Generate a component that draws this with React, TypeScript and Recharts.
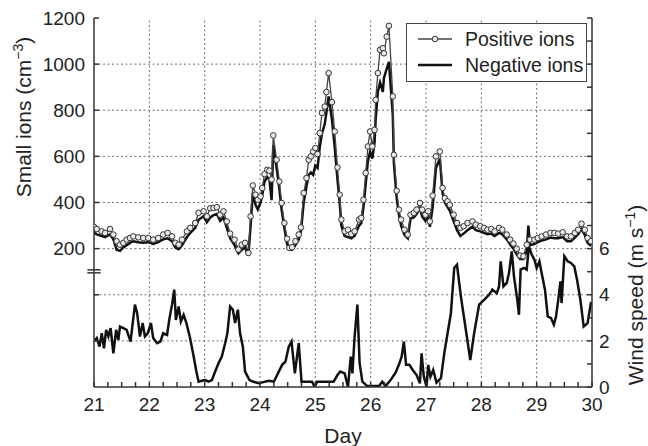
import React from 'react';
import { ComposedChart, Line, XAxis, YAxis, ReferenceLine, ReferenceArea } from 'recharts';

const FONT = '"Liberation Sans", Arial, Helvetica, sans-serif';

// ---------- data ----------
const positiveDays = [21.0, 21.05, 21.14, 21.2, 21.29, 21.35, 21.41, 21.47, 21.53, 21.59, 21.65, 21.71, 21.8, 21.89, 21.98, 22.07, 22.16, 22.25, 22.33, 22.41, 22.47, 22.53, 22.59, 22.68, 22.74, 22.83, 22.89, 22.98, 23.04, 23.1, 23.16, 23.22, 23.28, 23.34, 23.4, 23.46, 23.54, 23.61, 23.67, 23.73, 23.79, 23.83, 23.87, 23.92, 23.96, 24.01, 24.04, 24.08, 24.13, 24.17, 24.21, 24.24, 24.3, 24.35, 24.39, 24.44, 24.49, 24.53, 24.58, 24.64, 24.7, 24.74, 24.79, 24.84, 24.88, 24.92, 24.96, 25.0, 25.04, 25.08, 25.12, 25.17, 25.2, 25.24, 25.3, 25.35, 25.4, 25.44, 25.47, 25.53, 25.59, 25.65, 25.71, 25.79, 25.83, 25.87, 25.91, 25.95, 25.99, 26.03, 26.07, 26.09, 26.13, 26.17, 26.22, 26.24, 26.29, 26.33, 26.4, 26.42, 26.47, 26.51, 26.55, 26.61, 26.67, 26.72, 26.78, 26.83, 26.89, 26.93, 26.99, 27.04, 27.07, 27.12, 27.18, 27.25, 27.3, 27.34, 27.39, 27.43, 27.5, 27.56, 27.62, 27.68, 27.75, 27.84, 27.9, 27.98, 28.05, 28.11, 28.18, 28.24, 28.32, 28.38, 28.46, 28.52, 28.58, 28.64, 28.7, 28.76, 28.82, 28.88, 28.96, 29.02, 29.09, 29.17, 29.25, 29.32, 29.39, 29.47, 29.55, 29.62, 29.69, 29.75, 29.81, 29.87, 29.92, 29.98];
const positiveIons = [294, 285, 275, 268, 285, 261, 232, 217, 225, 239, 246, 253, 249, 246, 246, 239, 246, 261, 268, 253, 225, 217, 239, 275, 290, 311, 355, 362, 340, 375, 376, 380, 347, 362, 318, 265, 239, 196, 217, 225, 181, 340, 474, 434, 412, 426, 463, 523, 542, 538, 500, 691, 585, 491, 398, 311, 243, 203, 206, 232, 261, 292, 441, 506, 585, 600, 621, 636, 610, 701, 788, 816, 879, 961, 835, 708, 552, 434, 326, 275, 282, 264, 275, 326, 333, 412, 528, 643, 708, 643, 715, 845, 961, 1062, 1069, 1047, 1119, 1166, 860, 607, 451, 369, 326, 282, 261, 347, 355, 369, 398, 369, 347, 362, 318, 430, 600, 621, 463, 419, 405, 390, 347, 311, 290, 297, 311, 318, 304, 297, 290, 282, 285, 275, 290, 282, 261, 239, 222, 199, 170, 167, 217, 239, 239, 246, 253, 261, 268, 268, 265, 271, 253, 253, 268, 282, 308, 282, 246, 232];

const negativeDays = [21.0, 21.05, 21.14, 21.2, 21.29, 21.35, 21.41, 21.47, 21.53, 21.59, 21.65, 21.71, 21.8, 21.89, 21.98, 22.07, 22.16, 22.25, 22.33, 22.41, 22.47, 22.53, 22.59, 22.68, 22.74, 22.83, 22.89, 22.98, 23.04, 23.1, 23.16, 23.22, 23.28, 23.34, 23.4, 23.46, 23.54, 23.61, 23.67, 23.73, 23.79, 23.83, 23.87, 23.92, 23.96, 24.01, 24.04, 24.08, 24.13, 24.17, 24.21, 24.24, 24.3, 24.35, 24.39, 24.44, 24.49, 24.53, 24.58, 24.64, 24.7, 24.74, 24.79, 24.84, 24.88, 24.92, 24.96, 25.0, 25.04, 25.08, 25.12, 25.17, 25.2, 25.24, 25.3, 25.35, 25.4, 25.44, 25.47, 25.53, 25.59, 25.65, 25.71, 25.79, 25.83, 25.87, 25.91, 25.95, 25.99, 26.03, 26.07, 26.09, 26.13, 26.17, 26.22, 26.24, 26.29, 26.33, 26.4, 26.42, 26.47, 26.51, 26.55, 26.61, 26.67, 26.72, 26.78, 26.83, 26.89, 26.93, 26.99, 27.04, 27.07, 27.12, 27.18, 27.25, 27.3, 27.34, 27.39, 27.43, 27.5, 27.56, 27.62, 27.68, 27.75, 27.84, 27.9, 27.98, 28.05, 28.11, 28.18, 28.24, 28.32, 28.38, 28.46, 28.52, 28.58, 28.64, 28.7, 28.76, 28.82, 28.85, 28.88, 28.96, 29.02, 29.09, 29.17, 29.25, 29.32, 29.39, 29.47, 29.55, 29.62, 29.69, 29.75, 29.81, 29.87, 29.92, 29.98];
const negativeIons = [270, 262, 255, 250, 262, 240, 195, 190, 205, 215, 225, 232, 228, 226, 228, 220, 228, 240, 245, 232, 205, 198, 215, 250, 268, 290, 325, 340, 315, 335, 345, 350, 320, 335, 290, 245, 215, 180, 195, 205, 170, 300, 440, 390, 370, 400, 430, 490, 510, 500, 410, 650, 550, 460, 370, 290, 220, 195, 195, 215, 240, 275, 400, 470, 520, 530, 520, 560, 550, 640, 700, 740, 790, 860, 760, 640, 500, 400, 300, 255, 250, 245, 255, 300, 310, 380, 480, 580, 620, 590, 660, 760, 880, 920, 880, 940, 980, 1010, 780, 570, 420, 350, 300, 260, 245, 330, 335, 350, 375, 340, 320, 340, 295, 380, 550, 590, 440, 400, 380, 365, 320, 280, 255, 265, 280, 295, 280, 275, 268, 262, 265, 255, 268, 262, 240, 218, 200, 175, 155, 155, 190, 300, 215, 220, 228, 235, 240, 248, 245, 245, 250, 232, 232, 248, 262, 285, 260, 225, 212];

const windDays = [21.0, 21.05, 21.1, 21.14, 21.18, 21.22, 21.26, 21.3, 21.35, 21.4, 21.44, 21.47, 21.53, 21.59, 21.66, 21.74, 21.78, 21.83, 21.88, 21.92, 21.97, 22.03, 22.07, 22.14, 22.2, 22.25, 22.32, 22.36, 22.41, 22.45, 22.48, 22.53, 22.57, 22.62, 22.67, 22.73, 22.79, 22.85, 22.89, 22.95, 23.01, 23.07, 23.13, 23.19, 23.25, 23.31, 23.37, 23.41, 23.46, 23.51, 23.55, 23.6, 23.64, 23.69, 23.73, 23.81, 23.88, 23.98, 24.04, 24.16, 24.25, 24.31, 24.4, 24.46, 24.52, 24.57, 24.63, 24.7, 24.75, 24.82, 24.94, 24.99, 25.03, 25.21, 25.33, 25.4, 25.45, 25.53, 25.59, 25.64, 25.67, 25.71, 25.76, 25.8, 25.85, 25.94, 26.03, 26.15, 26.21, 26.27, 26.36, 26.45, 26.52, 26.56, 26.6, 26.64, 26.7, 26.76, 26.83, 26.89, 26.92, 26.96, 27.01, 27.04, 27.08, 27.13, 27.19, 27.27, 27.33, 27.39, 27.45, 27.51, 27.56, 27.63, 27.72, 27.8, 27.87, 27.96, 28.05, 28.14, 28.2, 28.28, 28.32, 28.35, 28.4, 28.46, 28.5, 28.55, 28.59, 28.65, 28.68, 28.71, 28.77, 28.82, 28.86, 28.91, 28.96, 29.0, 29.05, 29.09, 29.15, 29.2, 29.26, 29.31, 29.35, 29.39, 29.43, 29.45, 29.5, 29.56, 29.62, 29.68, 29.73, 29.79, 29.85, 29.92, 29.98, 30.0];
const windSpeed = [1.97, 2.12, 1.75, 2.33, 1.68, 2.48, 2.19, 2.55, 1.46, 2.48, 2.04, 2.62, 2.55, 2.48, 1.97, 3.57, 3.2, 2.19, 2.77, 2.19, 2.33, 2.77, 2.12, 1.9, 1.97, 2.33, 2.26, 2.91, 3.57, 4.22, 2.91, 3.49, 2.84, 3.13, 2.77, 2.19, 1.46, 0.67, 0.23, 0.27, 0.3, 0.23, 0.3, 0.67, 1.03, 1.32, 1.9, 2.33, 3.49, 3.35, 2.77, 3.35, 2.33, 1.75, 0.67, 0.3, 0.23, 0.16, 0.2, 0.27, 0.23, 0.52, 0.96, 1.1, 1.75, 1.97, 0.59, 1.9, 0.23, 0.23, 0.23, 0.0, 0.23, 0.23, 0.23, 0.52, 0.67, 0.59, 0.0, 1.32, 0.59, 2.19, 3.57, 1.03, 0.23, 0.04, 0.04, 0.04, 0.23, 0.04, 0.3, 0.62, 1.03, 1.32, 1.97, 0.96, 0.96, 0.74, 0.52, 0.16, 1.46, 0.45, 0.0, 0.96, 0.45, 0.74, 0.19, 0.38, 1.46, 2.33, 3.2, 5.16, 5.3, 3.93, 2.48, 1.17, 2.33, 3.57, 3.78, 4.0, 4.22, 4.07, 4.36, 5.45, 4.36, 4.51, 4.94, 5.88, 4.8, 3.78, 3.13, 5.09, 5.16, 5.09, 6.1, 5.74, 5.52, 5.16, 5.45, 4.94, 4.22, 3.06, 2.99, 2.7, 3.06, 3.78, 4.58, 3.64, 5.67, 5.45, 5.38, 5.23, 4.65, 3.78, 2.62, 2.77, 3.64, 3.64];

const dayLabels = [21, 22, 23, 24, 25, 26, 27, 28, 29, 30];
const ionLabels = [200, 400, 600, 800, 1000, 1200];
const windLabels = [0, 2, 4, 6];

const seriesNames = ['Positive ions', 'Negative ions'];

// ---------- derived tables ----------
const positiveData = positiveDays.map((d, i) => ({ day: d, v: positiveIons[i] }));
const negativeData = negativeDays.map((d, i) => ({ day: d, v: negativeIons[i] }));
const windData = windDays.map((d, i) => ({ day: d, v: windSpeed[i] }));

const dayTicks: number[] = [];
for (let d = 21; d <= 30.001; d += 0.25) dayTicks.push(Math.round(d * 100) / 100);
const windTicks: number[] = [];
for (let w = 0; w <= 16; w += 1) windTicks.push(w);
const ionTicks = [0, -200, ...ionLabels];

const TICK_STYLE = { fontSize: 19, fill: '#222', fontFamily: FONT };
const AXIS_COLOR = '#333';
const GRID_STROKE = '#6f6f6f';
const GRID_DASH = '2 2.5';

export default function App() {
  return (
    <div style={{ position: 'absolute', left: 0, top: 0, width: 648, height: 446, background: '#fff', fontFamily: FONT }}>
      <ComposedChart width={648} height={446} margin={{ top: 18, right: 26, bottom: 29, left: 0 }}>
        <XAxis
          xAxisId="bottom"
          type="number"
          dataKey="day"
          domain={[21, 30]}
          allowDataOverflow
          ticks={dayTicks}
          interval={0}
          tickFormatter={(v: number) => (dayLabels.includes(v) ? String(v) : '')}
          tick={TICK_STYLE}
          tickSize={-5}
          tickMargin={16}
          height={30}
          stroke={AXIS_COLOR}
          strokeWidth={1.5}
        />
        <XAxis
          xAxisId="top"
          orientation="top"
          type="number"
          dataKey="day"
          domain={[21, 30]}
          allowDataOverflow
          ticks={dayTicks}
          interval={0}
          tickFormatter={() => ''}
          tickSize={-5}
          height={0}
          stroke={AXIS_COLOR}
          strokeWidth={1.5}
        />
        <YAxis
          yAxisId="ions"
          type="number"
          domain={[-400, 1200]}
          allowDataOverflow
          ticks={ionTicks}
          interval={0}
          tickFormatter={(v: number) => (ionLabels.includes(v) ? String(v) : '')}
          tick={TICK_STYLE}
          tickSize={-5}
          tickMargin={14}
          width={94}
          stroke={AXIS_COLOR}
          strokeWidth={1.5}
        />
        <YAxis
          yAxisId="wind"
          orientation="right"
          type="number"
          domain={[0, 16]}
          allowDataOverflow
          ticks={windTicks}
          interval={0}
          tickFormatter={(v: number) => (windLabels.includes(v) ? String(v) : '')}
          tick={TICK_STYLE}
          tickSize={-5}
          tickMargin={12}
          width={30}
          stroke={AXIS_COLOR}
          strokeWidth={1.5}
        />

        {dayLabels.slice(1, -1).map((d) => (
          <ReferenceLine
            key={'vx' + d}
            xAxisId="bottom"
            yAxisId="ions"
            x={d}
            ifOverflow="visible"
            stroke={GRID_STROKE}
            strokeDasharray={GRID_DASH}
            strokeWidth={1}
          />
        ))}
        {ionLabels.slice(0, -1).map((v) => (
          <ReferenceLine
            key={'hy' + v}
            xAxisId="bottom"
            yAxisId="ions"
            y={v}
            ifOverflow="visible"
            stroke={GRID_STROKE}
            strokeDasharray={GRID_DASH}
            strokeWidth={1}
          />
        ))}
        {windLabels.slice(1, 3).map((v) => (
          <ReferenceLine
            key={'hw' + v}
            xAxisId="bottom"
            yAxisId="wind"
            y={v}
            ifOverflow="visible"
            stroke={GRID_STROKE}
            strokeDasharray={GRID_DASH}
            strokeWidth={1}
          />
        ))}

        <Line
          xAxisId="bottom"
          yAxisId="wind"
          data={windData}
          dataKey="v"
          type="linear"
          stroke="#111"
          strokeWidth={2.5}
          dot={false}
          activeDot={false}
          isAnimationActive={false}
        />
        <Line
          xAxisId="bottom"
          yAxisId="ions"
          data={negativeData}
          dataKey="v"
          name={seriesNames[1]}
          type="linear"
          stroke="#111"
          strokeWidth={2.5}
          dot={false}
          activeDot={false}
          isAnimationActive={false}
        />
        <Line
          xAxisId="bottom"
          yAxisId="ions"
          data={positiveData}
          dataKey="v"
          name={seriesNames[0]}
          type="linear"
          stroke="#444"
          strokeWidth={1.3}
          dot={{ r: 2.8, fill: '#e8e8e8', stroke: '#333', strokeWidth: 1 }}
          activeDot={false}
          isAnimationActive={false}
        />

        <ReferenceArea
          xAxisId="bottom"
          yAxisId="ions"
          x1={20.88}
          x2={21.12}
          y1={95}
          y2={108}
          ifOverflow="visible"
          fill="#fff"
          fillOpacity={1}
          stroke="none"
        />
        <ReferenceLine
          xAxisId="bottom"
          yAxisId="ions"
          ifOverflow="visible"
          segment={[{ x: 20.88, y: 108 }, { x: 21.12, y: 108 }]}
          stroke={AXIS_COLOR}
          strokeWidth={1.5}
        />
        <ReferenceLine
          xAxisId="bottom"
          yAxisId="ions"
          ifOverflow="visible"
          segment={[{ x: 20.88, y: 95 }, { x: 21.12, y: 95 }]}
          stroke={AXIS_COLOR}
          strokeWidth={1.5}
        />
      </ComposedChart>

      {/* axis titles */}
      <svg width={648} height={446} style={{ position: 'absolute', left: 0, top: 0, pointerEvents: 'none' }}>
        <text
          transform="translate(31,117) rotate(-90)"
          textAnchor="middle"
          fontSize={21}
          fill="#222"
          fontFamily={FONT}
        >
          Small ions (cm
          <tspan fontSize={14} dy={-8}>−3</tspan>
          <tspan dy={8}>)</tspan>
        </text>
        <text
          transform="translate(643,295) rotate(-90)"
          textAnchor="middle"
          fontSize={21}
          fill="#222"
          fontFamily={FONT}
        >
          Wind speed (m s
          <tspan fontSize={14} dy={-8}>−1</tspan>
          <tspan dy={8}>)</tspan>
        </text>
        <text x={343} y={443} textAnchor="middle" fontSize={21} fill="#222" fontFamily={FONT}>
          Day
        </text>
      </svg>

      {/* legend */}
      <div
        style={{
          position: 'absolute',
          left: 406,
          top: 23,
          width: 179,
          height: 57,
          border: '1.5px solid #444',
          background: '#fff',
          fontFamily: FONT,
          fontSize: 19.5,
          color: '#222',
        }}
      >
        <div style={{ position: 'absolute', left: 10, top: 4, display: 'flex', alignItems: 'center', height: 22 }}>
          <svg width={36} height={12}>
            <line x1={1} y1={6} x2={35} y2={6} stroke="#444" strokeWidth={1.3} />
            <circle cx={18} cy={6} r={2.8} fill="#e8e8e8" stroke="#333" strokeWidth={1} />
          </svg>
          <span style={{ marginLeft: 12, whiteSpace: 'nowrap' }}>{seriesNames[0]}</span>
        </div>
        <div style={{ position: 'absolute', left: 10, top: 30, display: 'flex', alignItems: 'center', height: 22 }}>
          <svg width={36} height={12}>
            <line x1={1} y1={6} x2={35} y2={6} stroke="#111" strokeWidth={2.5} />
          </svg>
          <span style={{ marginLeft: 12, whiteSpace: 'nowrap' }}>{seriesNames[1]}</span>
        </div>
      </div>
    </div>
  );
}
